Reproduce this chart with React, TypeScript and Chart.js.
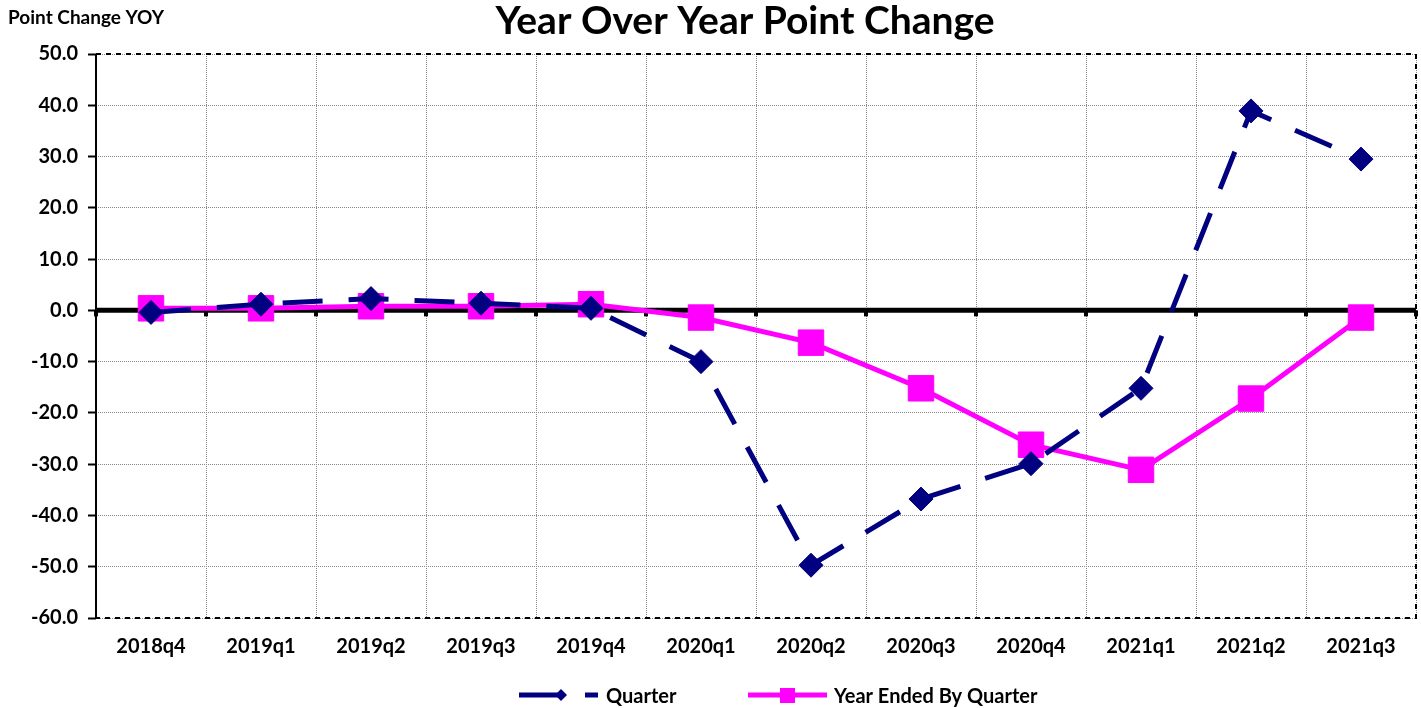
import React, { useEffect, useRef } from "react";
import { Chart, registerables } from "chart.js";

Chart.register(...registerables);

const categories = ["2018q4", "2019q1", "2019q2", "2019q3", "2019q4", "2020q1", "2020q2", "2020q3", "2020q4", "2021q1", "2021q2", "2021q3"];
const quarterValues = [-0.4, 1.2, 2.3, 1.4, 0.4, -10.0, -49.7, -36.8, -29.9, -15.2, 38.9, 29.5];
const yearEndedValues = [0.4, 0.4, 0.8, 0.8, 1.2, -1.4, -6.3, -15.2, -26.2, -31.1, -17.2, -1.4];
const yMin = -60;
const yMax = 50;
const yStep = 10;

const FONT = "Lato, 'Liberation Sans', sans-serif";
const NAVY = "#000080";
const MAGENTA = "#FF00FF";

const decorPlugin = {
  id: "decor",
  beforeDatasetsDraw(chart: any) {
    const { ctx, chartArea } = chart;
    const { left, right, top, bottom } = chartArea;
    const y0 = chart.scales.y.getPixelForValue(0);
    const xs = chart.scales.x;
    ctx.save();
    ctx.strokeStyle = "#000";
    ctx.lineWidth = 5;
    ctx.beginPath();
    ctx.moveTo(left, y0);
    ctx.lineTo(right, y0);
    ctx.stroke();
    ctx.fillStyle = "#000";
    for (let i = 0; i <= categories.length; i++) {
      const x = i === 0 ? left : i === categories.length ? right : (xs.getPixelForValue(i - 1) + xs.getPixelForValue(i)) / 2;
      ctx.fillRect(x - 2, y0, 4, 6);
    }
    ctx.lineWidth = 2;
    ctx.setLineDash([5, 5]);
    ctx.beginPath();
    ctx.moveTo(left, top);
    ctx.lineTo(right, top);
    ctx.lineTo(right, bottom);
    ctx.lineTo(left, bottom);
    ctx.stroke();
    ctx.setLineDash([]);
    ctx.beginPath();
    ctx.moveTo(left, top);
    ctx.lineTo(left, bottom);
    ctx.stroke();
    ctx.restore();
  },
  afterDraw(chart: any) {
    const { ctx } = chart;
    ctx.save();
    ctx.fillStyle = "#000";
    ctx.textBaseline = "middle";
    ctx.font = `bold 39px ${FONT}`;
    ctx.textAlign = "center";
    ctx.fillText("Year Over Year Point Change", 745, 21);
    ctx.font = `bold 19px ${FONT}`;
    ctx.textAlign = "left";
    ctx.fillText("Point Change YOY", 8, 18);
    const ly = 695;
    ctx.strokeStyle = NAVY;
    ctx.fillStyle = NAVY;
    ctx.lineWidth = 5;
    ctx.beginPath();
    ctx.moveTo(519, ly);
    ctx.lineTo(560, ly);
    ctx.moveTo(585, ly);
    ctx.lineTo(598, ly);
    ctx.stroke();
    ctx.beginPath();
    ctx.moveTo(561, ly - 6);
    ctx.lineTo(567, ly);
    ctx.lineTo(561, ly + 6);
    ctx.lineTo(555, ly);
    ctx.closePath();
    ctx.fill();
    ctx.strokeStyle = MAGENTA;
    ctx.fillStyle = MAGENTA;
    ctx.beginPath();
    ctx.moveTo(748, ly);
    ctx.lineTo(827, ly);
    ctx.stroke();
    ctx.fillRect(780, ly - 7, 15, 15);
    ctx.fillStyle = "#000";
    ctx.font = `bold 20px ${FONT}`;
    ctx.fillText("Quarter", 606, ly + 2);
    ctx.fillText("Year Ended By Quarter", 834, ly + 2);
    ctx.restore();
  },
};

export default function App() {
  const ref = useRef<HTMLCanvasElement | null>(null);
  useEffect(() => {
    if (!ref.current) return;
    const chart = new Chart(ref.current, {
      type: "line",
      data: {
        labels: categories,
        datasets: [
          {
            label: "Quarter",
            data: quarterValues,
            borderColor: NAVY,
            backgroundColor: NAVY,
            borderWidth: 5,
            borderDash: [40, 26],
            pointStyle: "rectRot",
            pointRadius: 12,
            pointBorderWidth: 1,
            pointBorderColor: NAVY,
            pointBackgroundColor: NAVY,
            tension: 0,
          },
          {
            label: "Year Ended By Quarter",
            data: yearEndedValues,
            borderColor: MAGENTA,
            backgroundColor: MAGENTA,
            borderWidth: 5,
            pointStyle: "rect",
            pointRadius: 18,
            pointBorderWidth: 1,
            pointBorderColor: MAGENTA,
            pointBackgroundColor: MAGENTA,
            tension: 0,
          },
        ],
      },
      options: {
        responsive: false,
        animation: false,
        layout: { autoPadding: false, padding: { top: 54, right: 5, left: 0, bottom: 0 } },
        plugins: {
          legend: { display: false },
          title: { display: false },
          tooltip: { enabled: false },
        },
        scales: {
          x: {
            offset: true,
            grid: { offset: true, color: "#888", lineWidth: 1, drawTicks: false },
            border: { display: false, dash: [1, 1] },
            ticks: { padding: 17, color: "#000", maxRotation: 0, autoSkip: false, font: { family: FONT, size: 20, weight: "bold" } },
            afterFit(scale: any) {
              scale.height = 90;
              scale.paddingLeft = 0;
              scale.paddingRight = 0;
            },
          },
          y: {
            min: yMin,
            max: yMax,
            ticks: {
              stepSize: yStep,
              padding: 10,
              color: "#000",
              font: { family: FONT, size: 20, weight: "bold" },
              callback: (v: any) => Number(v).toFixed(1),
            },
            grid: { color: "#888", lineWidth: 1, tickLength: 8, tickColor: "#000", tickWidth: 2, tickBorderDash: [] },
            border: { display: false, dash: [1, 1] },
            afterFit(scale: any) {
              scale.width = 96;
              scale.paddingTop = 0;
              scale.paddingBottom = 0;
            },
          },
        },
      },
      plugins: [decorPlugin],
    } as any);
    return () => chart.destroy();
  }, []);
  return (
    <div style={{ position: "fixed", left: 0, top: 0, width: 1421, height: 708, background: "#fff" }}>
      <canvas ref={ref} width={1421} height={708} style={{ width: 1421, height: 708, display: "block" }} />
    </div>
  );
}
